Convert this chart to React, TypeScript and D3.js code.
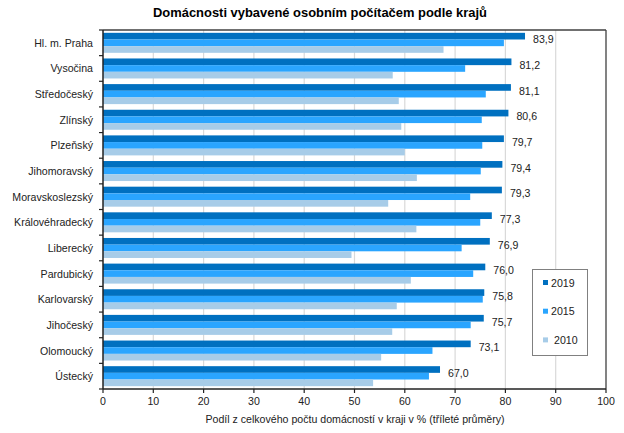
import React from "react";
import * as d3 from "d3";

const regions = [
  "Hl. m. Praha", "Vysočina", "Středočeský", "Zlínský", "Plzeňský", "Jihomoravský",
  "Moravskoslezský", "Královéhradecký", "Liberecký", "Pardubický", "Karlovarský",
  "Jihočeský", "Olomoucký", "Ústecký",
];
const values2019 = [83.9, 81.2, 81.1, 80.6, 79.7, 79.4, 79.3, 77.3, 76.9, 76.0, 75.8, 75.7, 73.1, 67.0];
const values2015 = [79.7, 72.0, 76.1, 75.3, 75.4, 75.1, 73.0, 75.0, 71.3, 73.6, 75.5, 73.1, 65.5, 64.8];
const values2010 = [67.7, 57.6, 58.8, 59.3, 60.0, 62.4, 56.7, 62.3, 49.4, 61.2, 58.4, 57.5, 55.3, 53.7];
const seriesNames = ["2019", "2015", "2010"];
const seriesColors = ["#0070C0", "#2AA5FF", "#A7CCE8"];
const xTicks = [0, 10, 20, 30, 40, 50, 60, 70, 80, 90, 100];

const W = 624, H = 433;
const M = { left: 103, right: 606, top: 30, bottom: 389 };
const FONT = "'Liberation Sans', Arial, sans-serif";
const FS = 10.6;

export default function App() {
  const x = d3.scaleLinear().domain([0, 100]).range([M.left, M.right]);
  const y = d3.scaleBand<string>().domain(regions).range([M.top, M.bottom]).paddingInner(0.22).paddingOuter(0.11);
  const inner = d3.scaleBand<string>().domain(seriesNames).range([0, y.bandwidth()]);
  const allSeries = [values2019, values2015, values2010];
  const step = y.step();
  const fmt = (v: number) => v.toFixed(1).replace(".", ",");

  return (
    <svg width={W} height={H} style={{ position: "absolute", left: 0, top: 0, background: "#fff" }} fontFamily={FONT}>
      <rect x={0} y={0} width={W} height={H} fill="#fff" />
      <text x={320} y={17} textAnchor="middle" fontSize={13} fontWeight="bold" fill="#000"
        textLength={334} lengthAdjust="spacingAndGlyphs">
        Domácnosti vybavené osobním počítačem podle krajů
      </text>
      {/* gridlines */}
      {xTicks.filter(t => t > 0 && t < 100).map(t => (
        <line key={t} x1={x(t)} x2={x(t)} y1={M.top} y2={M.bottom} stroke="#D9D9D9" strokeWidth={1.2} />
      ))}
      {/* bars */}
      {regions.map((r, i) => (
        <g key={r}>
          {allSeries.map((s, j) => (
            <rect key={j} x={x(0)} y={(y(r) as number) + (inner(seriesNames[j]) as number)}
              width={x(s[i]) - x(0)} height={inner.bandwidth()} fill={seriesColors[j]} />
          ))}
          <text x={x(values2019[i]) + 8} y={(y(r) as number) + inner.bandwidth() + 4}
            fontSize={FS} fill="#222">{fmt(values2019[i])}</text>
        </g>
      ))}
      {/* frame */}
      <line x1={M.left} x2={M.right} y1={M.top} y2={M.top} stroke="#404040" strokeWidth={1.3} />
      <line x1={M.right} x2={M.right} y1={M.top} y2={M.bottom} stroke="#404040" strokeWidth={1.3} />
      <line x1={M.left} x2={M.left} y1={M.top} y2={M.bottom} stroke="#222" strokeWidth={1.5} />
      <line x1={M.left} x2={M.right} y1={M.bottom} y2={M.bottom} stroke="#222" strokeWidth={1.5} />
      {/* y ticks */}
      {regions.map((r, i) => (
        <line key={"yt" + i} x1={M.left - 4} x2={M.left} y1={M.top + step * i} y2={M.top + step * i} stroke="#222" strokeWidth={1.2} />
      ))}
      <line x1={M.left - 4} x2={M.left} y1={M.bottom} y2={M.bottom} stroke="#222" strokeWidth={1.2} />
      {regions.map(r => (
        <text key={"yl" + r} x={93} y={(y(r) as number) + y.bandwidth() / 2 + 4} textAnchor="end" fontSize={FS} fill="#222">{r}</text>
      ))}
      {/* x ticks */}
      {xTicks.map(t => (
        <g key={"xt" + t}>
          <line x1={x(t)} x2={x(t)} y1={M.bottom} y2={M.bottom + 4} stroke="#222" strokeWidth={1.2} />
          <text x={x(t)} y={M.bottom + 16} textAnchor="middle" fontSize={FS} fill="#222">{t}</text>
        </g>
      ))}
      <text x={355} y={423} textAnchor="middle" fontSize={FS} fill="#222">
        Podíl z celkového počtu domácností v kraji v % (tříleté průměry)
      </text>
      {/* legend */}
      <rect x={532.5} y={269.5} width={55} height={86} fill="#fff" stroke="#808080" strokeWidth={1} />
      {seriesNames.map((n, j) => (
        <g key={"lg" + n}>
          <rect x={543} y={280 + j * 28.7} width={5} height={5} fill={seriesColors[j]} />
          <text x={j === 2 ? 554 : 551} y={286.5 + j * 28.7} fontSize={FS} fill="#222">{n}</text>
        </g>
      ))}
    </svg>
  );
}
